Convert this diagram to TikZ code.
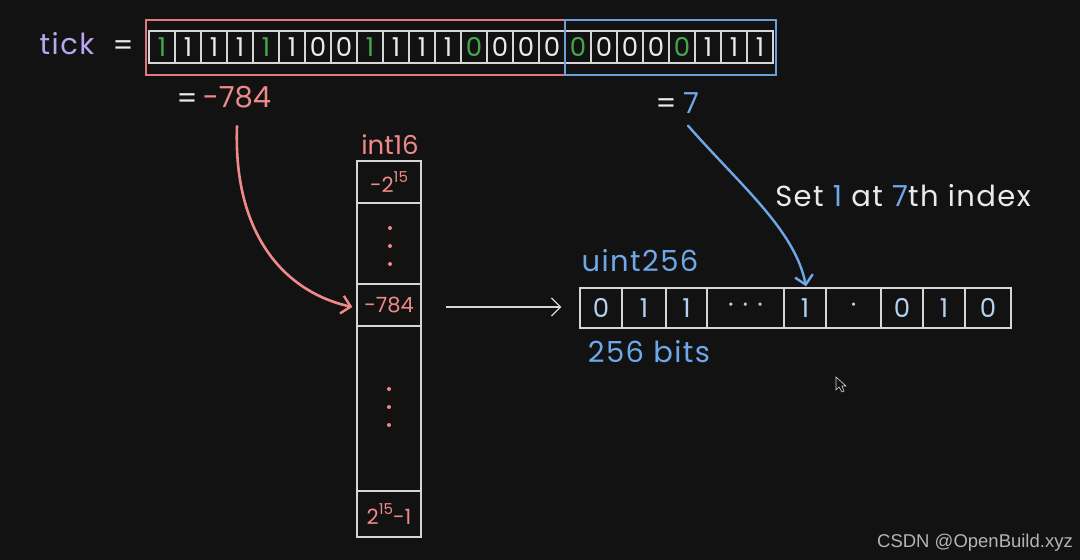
\documentclass[tikz,border=0pt]{standalone}
\usepackage{fontspec}
\setmainfont{Poppins}
\newfontfamily\wmfont{Liberation Sans}
\newfontfamily\wideface[LetterSpace=5]{Poppins}
\usetikzlibrary{arrows.meta}
\definecolor{bg}{HTML}{121212}
\definecolor{redc}{HTML}{F08A8A}
\definecolor{redbox}{HTML}{E07A80}
\definecolor{bluec}{HTML}{6EA8E8}
\definecolor{bluebox}{HTML}{6C9FD8}
\definecolor{paleblue}{HTML}{B4D0F0}
\definecolor{greenc}{HTML}{45A84E}
\definecolor{purp}{HTML}{B9A6F2}
\definecolor{linec}{HTML}{D6D6D6}
\definecolor{txt}{HTML}{EAEAEA}
\definecolor{wmc}{HTML}{B4B4B4}
\newcommand\szL{\fontsize{29}{32}\selectfont}
\newcommand\szM{\fontsize{26}{28}\selectfont}
\newcommand\szS{\fontsize{21}{24}\selectfont}
\newcommand\szT{\fontsize{15}{16}\selectfont}
\tikzset{
  bit/.style={draw=linec, line width=1.3pt, minimum width=26pt, minimum height=32pt, inner sep=0pt, font=\szM},
  ucell/.style={draw=linec, line width=1.3pt, minimum height=40pt, inner sep=0pt, font=\szM, text=paleblue},
  icell/.style={draw=linec, line width=1.3pt, minimum width=64pt, inner sep=0pt, font=\szS, text=redc},
  lbl/.style={inner sep=0pt, font=\szL},
  hbox/.style={line width=1.4pt, inner sep=0pt, minimum height=55pt},
  barb/.style={-{Straight Barb[length=9pt,width=18pt,line width=2.4pt]}},
  dotc/.style={fill=redc, draw=none, circle, minimum size=4pt, inner sep=0pt}
}
\begin{document}
\begin{tikzpicture}[x=1pt,y=-1pt]
\fill[bg] (0,0) rectangle (1080,560);
\useasboundingbox (0,0) rectangle (1080,560);

% tick label
\node[lbl, text=purp, font={\wideface\szL}] (tick) at (67,44) {tick};
\node[lbl, text=txt] (eq0) at (123,48) {=};

% bit cells
\foreach \d [count=\i from 0] in {1,1,1,1,1,1,0,0,1,1,1,1,0,0,0,0,0,0,0,0,0,1,1,1} {
  \pgfmathtruncatemacro\m{mod(\i,4)}
  \ifnum\m=0 \def\col{greenc}\else\def\col{txt}\fi
  \node[bit, text=\col] (b\i) at ({162+26*\i},47) {\d};
}
\node[hbox, draw=redbox, minimum width=419pt] (hi) at (355.5,47.5) {};
\node[hbox, draw=bluebox, minimum width=211pt] (lo) at (670.5,47.5) {};

% values
\node[lbl, text=txt] (eq1) at (187,101) {=};
\node[lbl, text=redc] (m784) at (237,97) {-784};
\node[lbl, text=txt] (eq2) at (666,106) {=};
\node[lbl, text=bluec] (seven) at (691,103) {7};

% int16 column
\node[lbl, text=redc, font=\szM] (int16) at (390,145) {int16};
\node[icell, minimum height=42pt] (c1) at (389,182) {-2\raisebox{10pt}{\szT 15}};
\node[icell, minimum height=81pt] (c2) at (389,243.5) {};
\node[icell, minimum height=42pt] (c3) at (389,305) {-784};
\node[icell, minimum height=165pt] (c4) at (389,408.5) {};
\node[icell, minimum height=46pt] (c5) at (389,514) {2\raisebox{10pt}{\szT 15}-1};
\foreach \yy in {228,246,264} \node[dotc] at (390,\yy) {};
\foreach \yy in {389,407,425} \node[dotc] at (389,\yy) {};

% uint256 row
\node[lbl, text=bluec, font={\wideface\szL}] (u256) at (640,261) {uint256};
\foreach \l/\r/\t [count=\i from 0] in {580/622/0,622/666/1,666/707/1,707/784/{·\hspace{9pt}·\hspace{9pt}·},784/826/1,826/881/·,881/923/0,923/965/1,965/1011/0} {
  \pgfmathsetmacro\w{\r-\l}
  \pgfmathsetmacro\cx{(\l+\r)/2}
  \node[ucell, minimum width=\w pt] (u\i) at (\cx,308) {\t};
}
\node[lbl, text=bluec, font={\wideface\szL}] (bits) at (649,352) {256 bits};

% set label
\node[lbl, text=txt, font={\wideface\szL}] (setlbl) at (903,196) {Set {\color{bluec}1} at {\color{bluec}7}th index};

% arrows
\draw[redc, line width=2.6pt, line cap=round, barb] ([yshift=-18pt]m784.south) .. controls (233,235) and (285,292) .. ([xshift=-4pt,yshift=-2pt]c3.west);
\draw[linec, line width=1.3pt, -{Straight Barb[length=9pt,width=18pt,line width=1.3pt]}] ([xshift=24pt,yshift=-2pt]c3.east) -- ([xshift=-18pt,yshift=1pt]u0.west);
\draw[bluec, line width=2.4pt, line cap=round, barb] ([xshift=-3pt,yshift=-12pt]seven.south) .. controls (740,185) and (795,230) .. ([xshift=1pt,yshift=1pt]u4.north);

% cursor
\draw[linec, line width=0.6pt, fill=bg] (836,377) -- (836,390) -- (839,387) -- (842,392) -- (844,391) -- (842,386) -- (846,386) -- cycle;

% watermark
\node[inner sep=0pt, text=wmc, font={\wmfont\fontsize{18.5}{20}\selectfont}] (wm) at (975,543) {CSDN @OpenBuild.xyz};
\end{tikzpicture}
\end{document}
